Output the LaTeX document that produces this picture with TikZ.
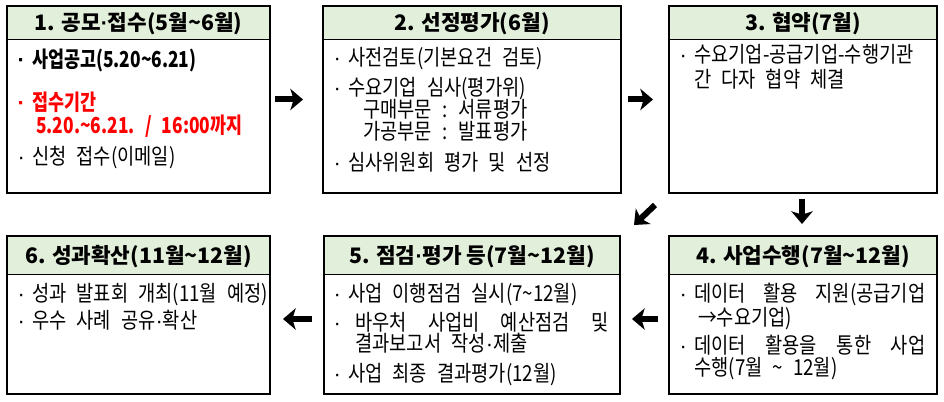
\documentclass[tikz,border=0pt]{standalone}
\usepackage{fontspec}
\setmainfont{Noto Sans CJK KR}[FakeStretch=0.85,WordSpace=2.4,BoldFeatures={FakeStretch=0.79}]
\newfontfamily\hdrfont{Noto Sans CJK KR}
\newfontfamily\dotfont{Liberation Sans}
\usetikzlibrary{arrows.meta,calc}
\newlength\px \setlength\px{0.75pt}
\definecolor{hdrgreen}{HTML}{E2EFDA}
\definecolor{txtred}{HTML}{FF0000}
\newcommand\md{{\dotfont ·}}
\newcommand\bul[1][16]{\makebox[#1\px][l]{\hspace{1pt}\md}}
\newcommand\jline[2]{\makebox[#1\px][s]{#2}}
\newcommand\tld{\textasciitilde}
\tikzset{
  card/.style={draw=black, line width=1.5pt, inner sep=0pt, outer sep=0pt, anchor=north west},
  hdr/.style={fill=hdrgreen, inner sep=0pt, outer sep=0pt, anchor=north west,
    font=\hdrfont\bfseries\fontsize{16pt}{18pt}\selectfont, text height=12pt, text depth=0pt},
  sep/.style={line width=0.75pt, black},
  txt/.style={anchor=base west, inner sep=0pt, font=\fontsize{16.5pt}{19pt}\selectfont},
  bigarrow/.style={line width=4.5pt, -{Stealth[length=9.5pt,width=16pt,inset=2.5pt]}}
}
\begin{document}
\begin{tikzpicture}[x=0.75pt,y=-0.75pt]
\useasboundingbox (0,0) rectangle (944,402);
% headers
\node[hdr, minimum width=197.25pt, minimum height=25.1pt] (h1) at (7,6) {1. 공모\md 접수(5월\tld 6월)};
\node[hdr, minimum width=223.5pt, minimum height=25.1pt] (h2) at (323,6) {2. 선정평가(6월)};
\node[hdr, minimum width=201pt, minimum height=25.1pt] (h3) at (669,6) {3. 협약(7월)};
\node[hdr, minimum width=197.25pt, minimum height=28.5pt] (h6) at (7,236) {6. 성과확산(11월\tld 12월)};
\node[hdr, minimum width=222pt, minimum height=28.5pt] (h5) at (324,236) {5. 점검\md 평가 등(7월\tld 12월)};
\node[hdr, minimum width=201pt, minimum height=28.5pt] (h4) at (669,236) {4. 사업수행(7월\tld 12월)};
\foreach \h in {h1,h2,h3,h4,h5,h6} \draw[sep] (\h.south west) -- (\h.south east);
% cards
\node[card, minimum width=197.25pt, minimum height=140.25pt] (b1) at (7,6) {};
\node[card, minimum width=223.5pt, minimum height=140.25pt] (b2) at (323,6) {};
\node[card, minimum width=201pt, minimum height=140.25pt] (b3) at (669,6) {};
\node[card, minimum width=197.25pt, minimum height=118.5pt] (b6) at (7,236) {};
\node[card, minimum width=222pt, minimum height=118.5pt] (b5) at (324,236) {};
\node[card, minimum width=201pt, minimum height=118.5pt] (b4) at (669,236) {};
% box 1
\node[txt] (t1a) at (16,68) {\bfseries\bul 사업공고(5.20\tld 6.21)};
\node[txt, text=txtred] (t1b) at (16,111) {\bfseries\bul 접수기간};
\node[txt, text=txtred] (t1c) at (36,134) {\bfseries 5.20.\tld 6.21. / 16:00까지};
\node[txt] (t1d) at (16,165) {\bul 신청 접수(이메일)};
% box 2
\node[txt] (t2a) at (332,66) {\bul 사전검토(기본요건 검토)};
\node[txt] (t2b) at (332,96) {\bul 수요기업 심사(평가위)};
\node[txt] (t2c) at (363,118) {구매부문 : 서류평가};
\node[txt] (t2d) at (363,140) {가공부문 : 발표평가};
\node[txt] (t2e) at (332,171) {\bul 심사위원회 평가 및 선정};
% box 3
\node[txt] (t3a) at (678,63) {\bul 수요기업-공급기업-수행기관};
\node[txt] (t3b) at (694,88) {간 다자 협약 체결};
% box 4
\node[txt] (t4a) at (678,301) {\bul\jline{231}{데이터 활용 지원(공급기업}};
\node[txt] (t4b) at (698,325) {→수요기업)};
\node[txt] (t4c) at (678,353) {\bul\jline{231}{데이터 활용을 통한 사업}};
\node[txt] (t4d) at (694,375) {수행(7월 \tld{} 12월)};
% box 5
\node[txt] (t5a) at (332,301) {\bul 사업 이행점검 실시(7\tld 12월)};
\node[txt] (t5b) at (332,330) {\bul[23]\jline{253}{바우처 사업비 예산점검 및}};
\node[txt] (t5c) at (355,351) {결과보고서 작성\md 제출};
\node[txt] (t5d) at (332,381) {\bul 사업 최종 결과평가(12월)};
% box 6
\node[txt] (t6a) at (16,301) {\bul 성과 발표회 개최(11월 예정)};
\node[txt] (t6b) at (16,328) {\bul 우수 사례 공유\md 확산};
% arrows
\draw[bigarrow] ($(b1.east)+(5,0)$) -- ($(b1.east)+(33,0)$);
\draw[bigarrow] ($(b2.east)+(7,0)$) -- ($(b2.east)+(32,0)$);
\draw[bigarrow] ($(b3.south)+(-1,6)$) -- ($(b3.south)+(-1,31)$);
\draw[bigarrow] ($(b3.south west)+(-14,12)$) -- ($(b3.south west)+(-35,32)$);
\draw[bigarrow] ($(b4.west)+(-11,4)$) -- ($(b4.west)+(-37,4)$);
\draw[bigarrow] ($(b5.west)+(-12,4)$) -- ($(b5.west)+(-41,4)$);
\end{tikzpicture}
\end{document}
